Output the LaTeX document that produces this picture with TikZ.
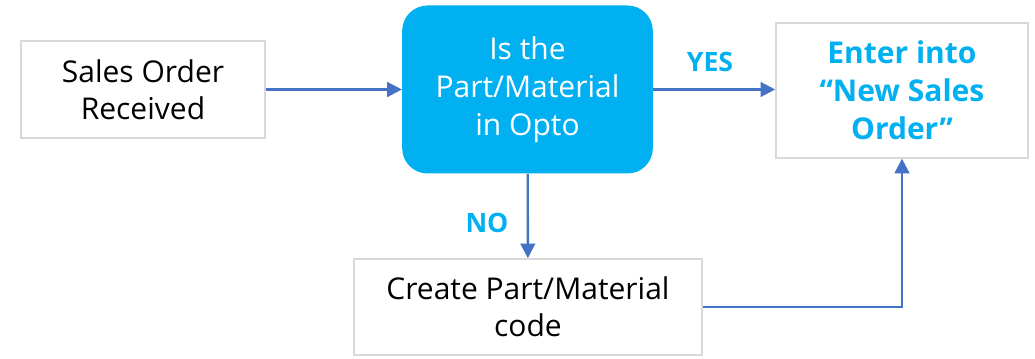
\documentclass[tikz,border=0pt]{standalone}
\usepackage{fontspec}
\setmainfont{Open Sans}
\usetikzlibrary{arrows.meta}
\usetikzlibrary{positioning}
\definecolor{skyblue}{HTML}{00B0F0}
\definecolor{linkblue}{HTML}{4472C4}
\definecolor{edgegray}{HTML}{D9D9D9}
\tikzset{plainbox/.style = {draw = edgegray, line width = 1.2pt, fill = white,
                            align = center, inner sep = 0,
                            font = \fontsize{22.5}{28}\selectfont}}
\tikzset{askbox/.style = {fill = skyblue, rounded corners = 19pt, align = center,
                          inner sep = 0, text = white,
                          font = \fontsize{22.5}{28.5}\selectfont}}
\tikzset{link/.style = {draw = linkblue, line width = 1.8pt,
                        -{Triangle[length = 11pt, width = 11pt]}}}
\tikzset{answer/.style = {text = skyblue, font = \fontsize{20}{24}\bfseries\selectfont}}

\begin{document}
\begin{tikzpicture}[x = 0.75pt, y = -0.75pt]
      \useasboundingbox (0, 0) rectangle (1035, 359);

      \node [plainbox, minimum width = 183pt, minimum height = 73pt]
            (received) at (143, 89.5) {Sales Order\\Received};
      \node [askbox, minimum width = 188pt, minimum height = 126pt]
            (ask) at (527.5, 89.5) {Is the\\Part/Material\\in Opto};
      \node [plainbox, minimum width = 189pt, minimum height = 101pt, text = skyblue,
             font = \fontsize{22.5}{28.5}\bfseries\selectfont]
            (enter) at (902, 90.5) {Enter into\\“New Sales\\Order”};
      \node [plainbox, minimum width = 261pt, minimum height = 72pt]
            (create) at (528, 307) {Create Part/Material\\code};

      \draw [link] (received) -- (ask);
      \draw [link] (ask.east) -- (ask.east -| enter.west);
      \draw [link] (ask) -- (create);
      \draw [link] (create.east) -| (enter.south);

      \node [answer] (yes) at (710, 62) {YES};
      \node [answer] (no) at (487, 223) {NO};
    \end{tikzpicture}
\end{document}
